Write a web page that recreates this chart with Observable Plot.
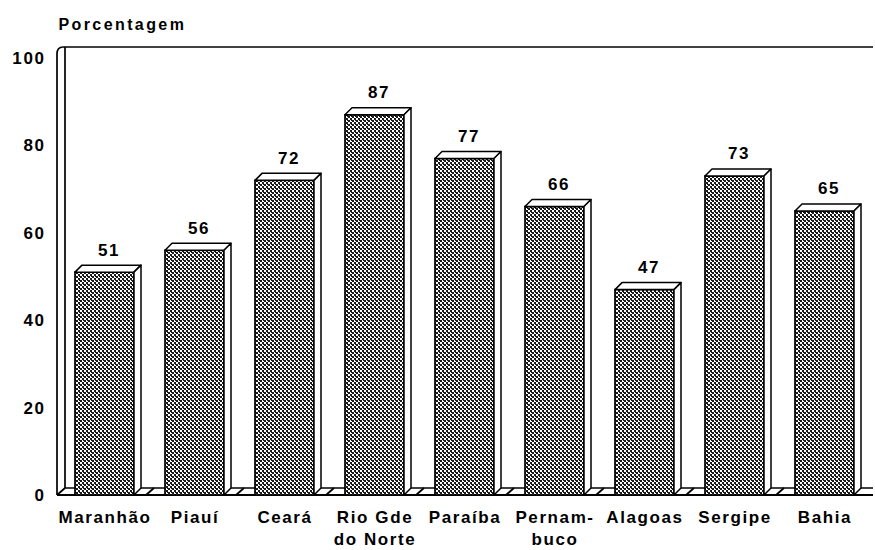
<!DOCTYPE html>
<html>
<head>
<meta charset="utf-8">
<script src="https://cdn.jsdelivr.net/npm/d3@7"></script>
<script src="https://cdn.jsdelivr.net/npm/@observablehq/plot@0.6"></script>
<style>
  html, body { margin: 0; padding: 0; background: white; overflow: hidden; }
</style>
</head>
<body>
<div id="chart"></div>
<script>
// ---- data ----
const states = ["Maranhão", "Piauí", "Ceará", "Rio Gde do Norte", "Paraíba", "Pernambuco", "Alagoas", "Sergipe", "Bahia"];
const stateLabels = ["Maranhão", "Piauí", "Ceará", "Rio Gde\ndo Norte", "Paraíba", "Pernam-\nbuco", "Alagoas", "Sergipe", "Bahia"];
const values = [51, 56, 72, 87, 77, 66, 47, 73, 65];
const yTicks = [0, 20, 40, 60, 80, 100];
const yTitle = "Porcentagem";

const rows = states.map((s, i) => ({state: s, label: stateLabels[i], value: values[i]}));

const DX = 7, DY = 7;      // 3-D depth of bars (px)
const WX = 8, WY = 7;      // 3-D depth of floor / wall (px)
const FONT = "'Liberation Sans', Arial, Helvetica, sans-serif";

// walls and floor of the 3-D frame
function frame3d(index, scales, values_, dimensions) {
  const {x, y} = scales;
  const left = dimensions.marginLeft + 1;
  const right = dimensions.width - dimensions.marginRight;
  const y0 = y(0), yTop = y(100) - 11;
  const step = x.step ? x.step() : (right - left) / states.length;
  const [r0] = x.range();
  const g = d3.create("svg:g").attr("fill", "none").attr("stroke", "black").attr("stroke-width", 1.7);
  g.append("path").attr("d", `M${left},${y0}L${left},${yTop + 7}Q${left},${yTop} ${left + 6},${yTop}`);
  g.append("path").attr("d", `M${left + WX},${y0 - WY}L${left + WX},${yTop}`);
  g.append("path").attr("d", `M${left + 6},${yTop}L${right},${yTop}`);
  g.append("path").attr("d", `M${left},${y0}L${right},${y0}`).attr("stroke-width", 2.2);
  g.append("path").attr("d", `M${left + WX},${y0 - WY}L${right},${y0 - WY}`);
  for (let k = 0; k < states.length; k++) {
    const xb = (k === 0 ? left : r0 + k * step);
    g.append("path").attr("d", `M${xb},${y0}L${xb + WX},${y0 - WY}`);
  }
  return g.node();
}

// top and side faces of each bar
function bars3d(index, scales) {
  const {x, y} = scales;
  const bw = x.bandwidth();
  const g = d3.create("svg:g").attr("fill", "white").attr("stroke", "black")
    .attr("stroke-width", 1.5).attr("stroke-linejoin", "round");
  rows.forEach(d => {
    const x0 = x(d.state), x1 = x0 + bw, yt = y(d.value), yb = y(0);
    g.append("path").attr("d", `M${x0},${yt}L${x0 + DX},${yt - DY}L${x1 + DX},${yt - DY}L${x1},${yt}Z`);
    g.append("path").attr("d", `M${x1},${yt}L${x1 + DX},${yt - DY}L${x1 + DX},${yb - DY}L${x1},${yb}Z`);
  });
  return g.node();
}

const plot = Plot.plot({
  width: 875,
  height: 550,
  marginLeft: 56,
  marginRight: 2,
  marginTop: 58,
  marginBottom: 55,
  style: {fontFamily: FONT, fontSize: "17px", fontWeight: "bold", letterSpacing: "1.6px", background: "white", color: "black"},
  x: {type: "band", domain: states, paddingInner: 0.35, paddingOuter: 0.175, axis: null},
  y: {domain: [0, 100], axis: null},
  marks: [
    frame3d,
    Plot.barY(rows, {x: "state", y: "value", fill: "url(#stip)", stroke: "black", strokeWidth: 1.7}),
    bars3d,
    Plot.axisY(yTicks, {tickSize: 0, tickPadding: 11, fontSize: 17, fontWeight: "bold", label: null, tickFormat: d => String(d)}),
    Plot.text(rows, {x: "state", y: "value", text: d => String(d.value), dx: 4, dy: -17, lineAnchor: "bottom", fontSize: 17, fontWeight: "bold"}),
    Plot.text(rows, {x: "state", text: "label", frameAnchor: "bottom", lineAnchor: "top", dy: 12, lineHeight: 1.3, fontSize: 17, fontWeight: "bold"}),
    Plot.text([yTitle], {frameAnchor: "top-left", textAnchor: "start", lineAnchor: "bottom", dx: 2, dy: -29, fontSize: 16, fontWeight: "bold", style: ""})
  ]
});

d3.select(plot).insert("defs", ":first-child").html(
  `<pattern id="stip" patternUnits="userSpaceOnUse" width="4" height="4">
     <rect width="4" height="4" fill="#ffffff"/>
     <rect x="0" y="0" width="2" height="2" fill="#1a1a1a"/>
     <rect x="2" y="2" width="2" height="2" fill="#1a1a1a"/>
     <rect x="3" y="0" width="1" height="1" fill="#1a1a1a"/>
   </pattern>`
);
// wider tracking for the axis title, as in the original
d3.select(plot).selectAll("text").filter(function() { return this.textContent === yTitle; })
  .style("letter-spacing", "2.4px");

document.getElementById("chart").appendChild(plot);
</script>
</body>
</html>
